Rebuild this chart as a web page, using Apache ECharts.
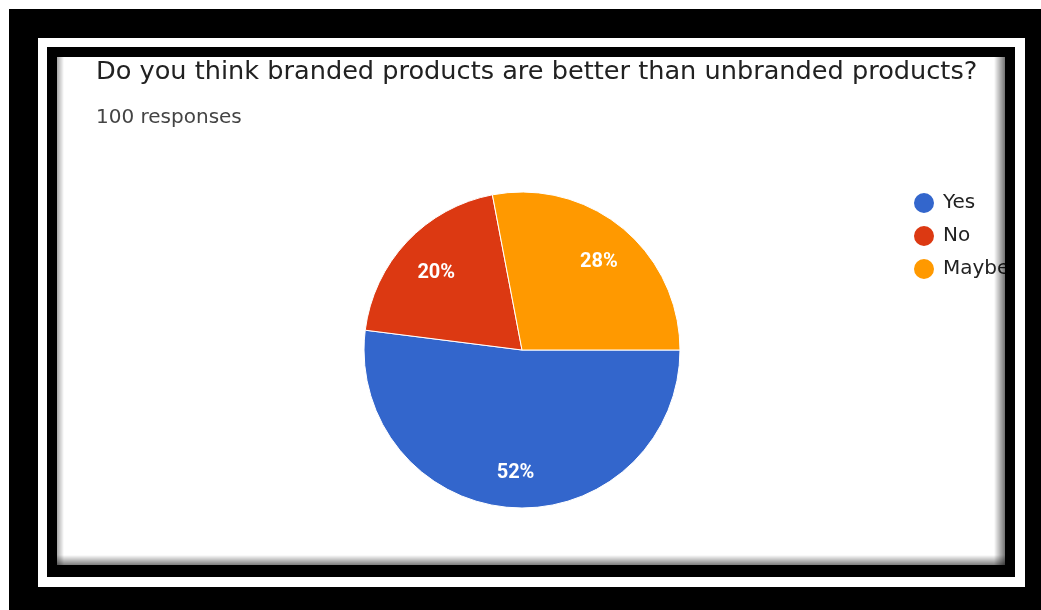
<!DOCTYPE html>
<html><head><meta charset="utf-8">
<script src="https://cdn.jsdelivr.net/npm/echarts@6/dist/echarts.min.js"></script>
<style>
html,body{margin:0;padding:0;background:#fff;width:1041px;height:610px;overflow:hidden;}
.b{position:absolute;}
#outer{left:9px;top:9px;width:1032px;height:601px;background:#000;}
#white{left:38px;top:38px;width:987px;height:549px;background:#fff;}
#inner{left:47px;top:47px;width:968px;height:530px;background:#000;}
#panel{left:57px;top:57px;width:948px;height:508px;background:#fff;overflow:hidden;}
#chart{position:absolute;left:0;top:0;width:948px;height:508px;}
.sh{position:absolute;pointer-events:none;}
#shL{left:0;top:0;width:7px;height:508px;background:linear-gradient(to right, rgba(0,0,0,0.35), rgba(0,0,0,0));}
#shR{right:0;top:0;width:11px;height:508px;background:linear-gradient(to left, rgba(0,0,0,0.55), rgba(0,0,0,0));}
#shB{left:0;bottom:0;width:948px;height:10px;background:linear-gradient(to top, rgba(0,0,0,0.5), rgba(0,0,0,0));}
</style></head>
<body>
<div class="b" id="outer"></div>
<div class="b" id="white"></div>
<div class="b" id="inner"></div>
<div class="b" id="panel"><div id="chart"></div><div class="sh" id="shL"></div><div class="sh" id="shR"></div><div class="sh" id="shB"></div></div>
<script>
const titleText = "Do you think branded products are better than unbranded products?";
const subtitleText = "100 responses";
const categories = ["Yes", "No", "Maybe"];
const values = [52, 20, 28];
const colors = ["#3366cc", "#dc3912", "#ff9900"];

const chart = echarts.init(document.getElementById('chart'), null, {renderer: 'canvas'});
const data = categories.map((c, i) => ({name: c, value: values[i], itemStyle: {color: colors[i]}}));
const center = [465, 293];
const R = 158;
chart.setOption({
  animation: false,
  title: {
    text: titleText,
    subtext: subtitleText,
    left: 34, top: -3,
    itemGap: 23,
    textStyle: {fontFamily: 'DejaVu Sans', fontSize: 25.6, fontWeight: 'normal', color: '#212121'},
    subtextStyle: {fontFamily: 'DejaVu Sans', fontSize: 20, color: '#444444'}
  },
  legend: {
    orient: 'vertical',
    left: 850, top: 129,
    icon: 'circle',
    itemWidth: 22, itemHeight: 22, itemGap: 9,
    data: categories,
    textStyle: {fontFamily: 'DejaVu Sans', fontSize: 20, color: '#222222', padding: [0,0,0,3]}
  },
  series: [
    {
      type: 'pie', center: center, radius: [0, R],
      startAngle: 0, clockwise: true,
      data: data,
      label: {show: false}, labelLine: {show: false},
      itemStyle: {borderColor: '#ffffff', borderWidth: 1},
      emphasis: {disabled: true}
    },
    {
      type: 'pie', center: center, radius: [74, R],
      startAngle: 0, clockwise: true, silent: true,
      data: categories.map((c, i) => ({name: c, value: values[i], itemStyle: {color: 'rgba(0,0,0,0)'}})),
      label: {show: true, position: 'inside', formatter: '{d}%', color: '#ffffff',
        fontFamily: 'Roboto', fontSize: 20, fontWeight: 'bold', offset: [1, 4]},
      labelLine: {show: false},
      emphasis: {disabled: true},
      legendHoverLink: false
    }
  ]
});
</script>
</body></html>
